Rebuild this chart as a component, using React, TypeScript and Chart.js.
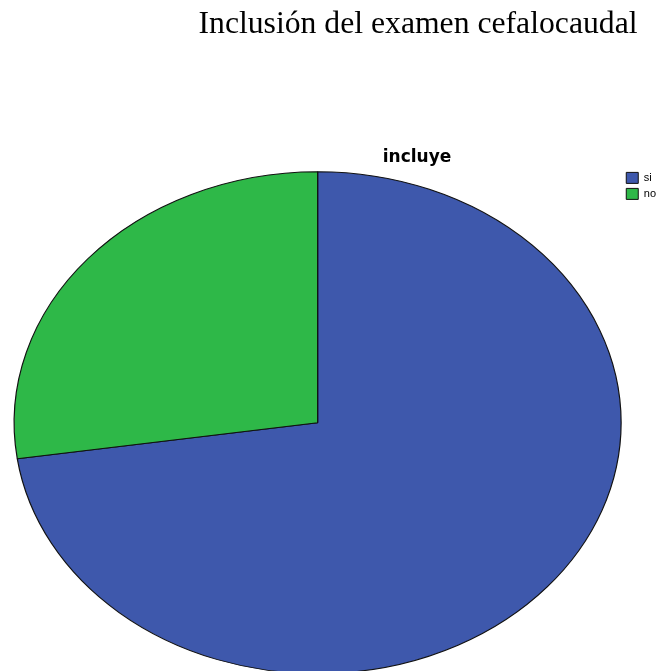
import React, { useEffect, useRef } from "react";
import { Chart, registerables } from "chart.js";

Chart.register(...registerables);

// ---- data ----
const categories: string[] = ["si", "no"];
const values: number[] = [72.7, 27.3];
const sliceColors: string[] = ["#3e58ac", "#2eb848"];
const pageTitle = "Inclusión del examen cefalocaudal";
const chartTitle = "incluye";

// ---- styling / layout ----
const PIE_RX = 303.5;
const PIE_RY = 251;
const TITLE_CENTER_X = 417;

const ellipsePlugin = {
  id: "ellipsePie",
  beforeDatasetsDraw(chart: any) {
    const arc = chart.getDatasetMeta(0).data[0] as any;
    const ctx = chart.ctx;
    ctx.save();
    if (!arc) return;
    const { x, y, outerRadius } = arc;
    ctx.translate(x, y);
    ctx.scale(PIE_RX / outerRadius, PIE_RY / outerRadius);
    ctx.translate(-x, -y);
  },
  afterDatasetsDraw(chart: any) {
    chart.ctx.restore();
  },
};

const titleShiftPlugin = {
  id: "titleShift",
  afterLayout(chart: any) {
    const t = chart.titleBlock;
    if (!t) return;
    const w = t.right - t.left;
    t.left = TITLE_CENTER_X - w / 2;
    t.right = TITLE_CENTER_X + w / 2;
  },
};

export default function App() {
  const canvasRef = useRef<HTMLCanvasElement | null>(null);

  useEffect(() => {
    if (!canvasRef.current) return;
    const chart = new Chart(canvasRef.current, {
      type: "pie",
      data: {
        labels: categories,
        datasets: [
          {
            data: values,
            backgroundColor: sliceColors,
            borderColor: "#111111",
            borderWidth: 1,
            clip: false as any,
          },
        ],
      },
      options: {
        responsive: false,
        animation: false,
        layout: { padding: { top: 0, left: 14, right: -7, bottom: 22 } },
        plugins: {
          title: {
            display: true,
            text: chartTitle,
            color: "#000000",
            font: { family: "'DejaVu Sans', sans-serif", size: 17, weight: "bold" },
            padding: { top: 147, bottom: 0 },
          },
          legend: {
            display: true,
            position: "right",
            align: "start",
            fullSize: false,
            labels: {
              color: "#000000",
              font: { family: "'Liberation Sans', Arial, sans-serif", size: 11 },
              boxWidth: 12,
              boxHeight: 11,
              padding: 5,
            },
          },
          tooltip: { enabled: false },
        },
      },
      plugins: [ellipsePlugin, titleShiftPlugin],
    });
    return () => chart.destroy();
  }, []);

  return (
    <div
      style={{
        position: "fixed",
        left: 0,
        top: 0,
        width: 659,
        height: 671,
        overflow: "hidden",
        background: "#ffffff",
      }}
    >
      <canvas
        ref={canvasRef}
        width={659}
        height={700}
        style={{ position: "absolute", left: 0, top: 0, width: 659, height: 700 }}
      />
      <div
        style={{
          position: "absolute",
          left: 0,
          top: 7,
          width: 836,
          textAlign: "center",
          whiteSpace: "nowrap",
          fontFamily: "'Liberation Serif', 'Times New Roman', serif",
          fontSize: 31.7,
          lineHeight: "31.7px",
          color: "#000000",
        }}
      >
        {pageTitle}
      </div>
    </div>
  );
}
